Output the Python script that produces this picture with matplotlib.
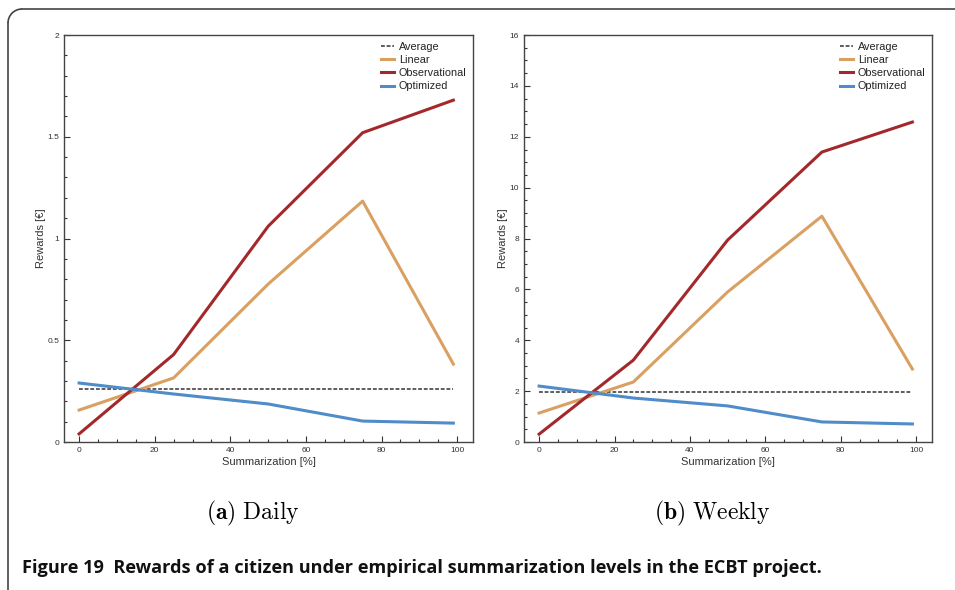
import numpy as np
import matplotlib.pyplot as plt
from matplotlib.lines import Line2D
from matplotlib.patches import Arc

plt.rcParams['font.family'] = ['Liberation Sans', 'DejaVu Sans']
plt.rcParams['mathtext.fontset'] = 'cm'

summ = [0, 25, 50, 75, 99]

daily_avg = 0.263
daily_linear = [0.157, 0.315, 0.776, 1.184, 0.383]
daily_obs = [0.04, 0.43, 1.06, 1.52, 1.68]
daily_opt = [0.29, 0.236, 0.187, 0.103, 0.093]

weekly_avg = 1.985
weekly_linear = [1.14, 2.36, 5.9, 8.88, 2.87]
weekly_obs = [0.31, 3.22, 7.94, 11.4, 12.58]
weekly_opt = [2.2, 1.73, 1.42, 0.79, 0.71]

c_lin = '#D9A062'
c_obs = '#A3282B'
c_opt = '#4F8CC9'
c_avg = '#333333'


def panel(ax, avg, lin, obs, opt, ymax, major, minor):
    ax.plot([summ[0], summ[-1]], [avg, avg], '--', color=c_avg, lw=1.1, label='Average', dashes=(2.5, 1.2))
    ax.plot(summ, lin, color=c_lin, lw=2.2, label='Linear')
    ax.plot(summ, obs, color=c_obs, lw=2.2, label='Observational')
    ax.plot(summ, opt, color=c_opt, lw=2.2, label='Optimized')
    ax.set_xlim(-4, 104.2)
    ax.set_ylim(0, ymax)
    ax.set_xticks(np.arange(0, 101, 20))
    ax.set_xticks(np.arange(0, 101, 5), minor=True)
    ax.set_yticks(np.arange(0, ymax + 1e-9, major))
    ax.set_yticks(np.arange(0, ymax + 1e-9, minor), minor=True)
    ax.yaxis.set_major_formatter(plt.FuncFormatter(lambda v, p: '%g' % v))
    ax.tick_params(which='both', direction='in', labelsize=6, colors='#333333', width=0.8)
    ax.tick_params(which='major', length=4)
    ax.tick_params(which='minor', length=2)
    for s in ax.spines.values():
        s.set_color('#444444')
        s.set_linewidth(1.0)
    ax.set_xlabel('Summarization [%]', fontsize=8, color='#333333', labelpad=2)
    ax.set_ylabel('Rewards [€]', fontsize=8, color='#333333', labelpad=1)
    ax.legend(loc='upper right', frameon=False, fontsize=7.8, handlelength=1.2,
              handletextpad=0.4, labelspacing=0.3, borderaxespad=0.2,
              labelcolor='#222222')


fig = plt.figure(figsize=(9.55, 5.9), dpi=100)
ax1 = fig.add_axes([0.067, 0.2508, 0.4283, 0.6898])
ax2 = fig.add_axes([0.5487, 0.2508, 0.4272, 0.6898])
panel(ax1, daily_avg, daily_linear, daily_obs, daily_opt, 2, 0.5, 0.1)
panel(ax2, weekly_avg, weekly_linear, weekly_obs, weekly_opt, 16, 2, 0.5)

fig.text(253 / 955, 1 - 513 / 590, r'$\mathbf{(a)}\ \mathrm{Daily}$', fontsize=17,
         ha='center', va='center')
fig.text(712 / 955, 1 - 513 / 590, r'$\mathbf{(b)}\ \mathrm{Weekly}$', fontsize=17,
         ha='center', va='center')
fig.text(22 / 955, 1 - 568 / 590,
         'Figure 19  Rewards of a citizen under empirical summarization levels in the ECBT project.',
         fontsize=13.1, fontweight='bold', family=['Open Sans', 'DejaVu Sans'],
         ha='left', va='center', color='#111111')

# frame around figure (top and left, rounded corner)
r = 14
W, H = 955, 590
border = dict(color='#444444', lw=1.2, transform=None)
fig.add_artist(Line2D([8 + r, W], [H - 9, H - 9], **border))
fig.add_artist(Line2D([8, 8], [H - 9 - r, 0], **border))
fig.add_artist(Arc((8 + r, H - 9 - r), 2 * r, 2 * r, theta1=90, theta2=180,
                   color='#444444', lw=1.2, transform=None))

fig.savefig('out.png', dpi=100)
